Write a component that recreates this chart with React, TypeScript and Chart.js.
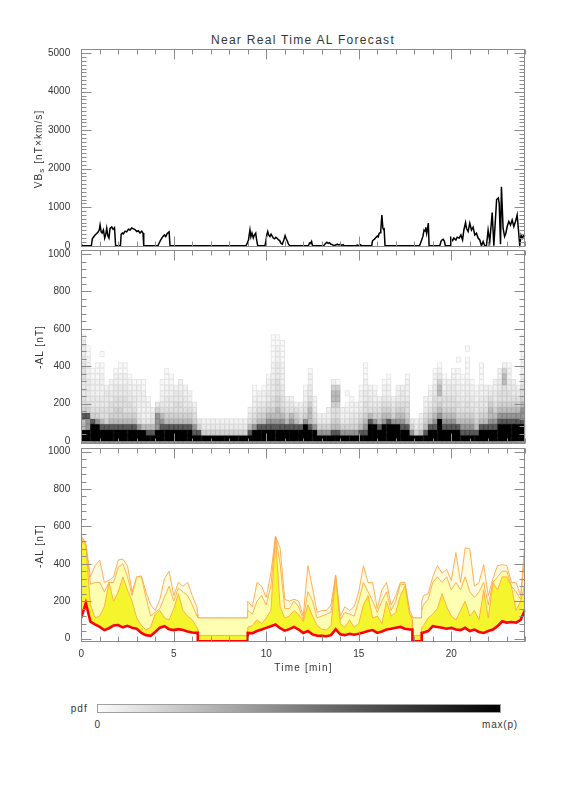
import React, { useEffect, useRef } from "react";
import { Chart, registerables } from "chart.js";

Chart.register(...registerables);

// ---------------- Panel 1 : VBs [nT x km/s] ----------------
const VBS_T = [0,0.06,
0.55,0.6,0.66,0.75,0.84,0.93,0.98,1.02,1.08,1.13,1.2,1.27,1.33,1.38,1.44,1.5,1.56,1.65,1.72,1.8,1.86,
2.12,2.16,2.22,2.28,2.37,2.46,2.55,2.64,2.73,2.82,2.91,3.0,3.09,3.18,3.27,3.34,3.38,
4.15,4.2,4.3,4.4,4.5,4.57,4.65,4.75,4.8,
8.9,8.95,9.04,9.12,9.17,9.23,9.3,9.36,9.43,9.48,9.54,
9.93,9.98,10.04,10.08,10.13,10.2,10.26,10.32,10.38,10.45,10.52,10.6,10.66,10.72,10.8,10.87,10.95,11.02,11.08,11.14,11.2,11.28,
12.28,12.34,12.4,12.45,12.5,
13.1,13.2,13.28,13.35,13.42,13.5,13.58,13.65,13.75,13.85,13.9,14.0,14.08,14.15,14.22,
14.85,14.92,15.0,15.1,15.15,
15.7,15.74,15.79,15.85,15.9,16.0,16.05,16.1,16.15,16.19,16.25,16.3,16.33,16.37,16.42,
18.28,18.33,18.4,18.47,18.53,18.58,18.62,18.67,18.72,18.76,18.8,
19.38,19.45,19.5,19.56,19.62,19.68,
19.94,19.97,20.07,20.14,20.25,20.32,20.43,20.52,20.61,20.68,20.77,20.82,20.91,21.0,21.09,21.18,21.27,21.36,21.45,21.54,21.63,21.72,21.81,21.9,21.99,22.08,22.21,22.3,22.45,22.54,22.59,22.66,22.71,22.8,22.88,22.95,23.02,23.11,23.2,23.29,23.38,23.47,23.56,23.63,23.7,23.77,23.85,23.92,24];
const VBS_V = [50,0,
0,180,220,280,320,370,420,540,360,330,410,200,300,455,260,200,450,490,430,470,0,
0,300,330,310,380,360,430,410,460,440,420,370,390,330,380,330,0,
0,60,150,230,280,240,320,360,0,
0,40,150,410,230,330,200,280,330,150,0,
0,120,300,370,280,240,300,250,200,180,220,190,150,140,60,40,150,260,180,120,40,0,
0,70,60,110,0,
0,60,90,60,80,40,30,0,20,40,20,35,10,30,0,
0,20,0,25,0,
0,120,150,170,200,250,230,320,340,410,800,470,430,440,0,
0,60,150,250,410,380,480,320,450,590,0,
0,120,150,170,130,0,
0,200,135,200,150,220,200,280,150,410,600,455,370,585,410,480,280,325,200,150,0,110,0,0,410,110,860,0,1200,1240,1100,40,1530,455,240,325,500,630,540,670,500,630,800,410,0,280,200,280,250];

// ---------------- Panel 2 : pdf histogram of -AL ----------------
// one string per 0.25-min column; char 0 = bin below 0, then 30 nT bins upward; digit = darkness 0..9
const HIST_T0 = 0;
const HIST_DT = 0.25;
const HIST_BIN = 30;
const HIST = [
"79966854433344433332","799778543333222211","79998543322211","799975433222111",
"79986443322221101","79985443332","799865443322","79986554433221",
"799865544332211","799865444332211","7998654433221","799865433221",
"799743222221","799632222211","798632221","7986432",
"79977753","799876432211","79986543322111","7998654332211",
"79986544332","799865443322","79986543322","7998654322",
"79875432","79853","79532","79532",
"79532","79532","79532","79532",
"79532","79532","79532","79532",
"7986432","79975432211","7998654322","79986543221",
"7998765433221","79987654433322211111","79987665544433322211","7998765443322221111",
"799865432","799876432","79986542","79985432",
"79997543221","79986665433221","799754322","797532",
"797532","7975322","798654456652","798654456651",
"7975322","7975322101","797543221","79754322",
"79865432221","798765443322111","79998643322","79997543221",
"799865432","799976543221","7999865432211","799975432",
"79997654322","79987654332","7998654432221","79753",
"79532","796432","798654322","79986543221",
"79987654433221","799997654665321","7998765443221","799876544332",
"79987654433221","7998654433221101","7987654332211","798765443322111101",
"798765433221","79865433221","799865433221111","79986543322",
"79987665432","799876543322","79998765443322","799987654446652",
"799987654433221","799987654332","79998765432","79998776544332222111"
];

// ---------------- Panel 3 : forecast quantile bands of -AL ----------------
const T = [0,0.25,0.5,0.75,1,1.25,1.5,1.75,2,2.25,2.5,2.75,3,3.25,3.5,3.75,4,4.25,4.5,4.75,5,5.25,5.5,5.75,6,6.25,
6.3,6.3,
6.5,6.75,7,7.25,7.5,7.75,8,8.25,8.5,8.75,9,
9,
9.25,9.5,9.75,10,10.25,10.5,10.75,11,11.25,11.5,11.75,12,12.25,12.5,12.75,13,13.25,13.5,13.75,14,14.25,14.5,14.75,15,15.25,15.5,15.75,16,16.25,16.5,16.75,17,17.25,17.5,17.75,
17.9,17.9,
18,18.25,
18.4,18.4,
18.5,18.75,19,19.25,19.5,19.75,20,20.25,20.5,20.75,21,21.25,21.5,21.75,22,22.25,22.5,22.75,23,23.25,23.5,23.75,24];

const RED = [110,190,90,75,62,45,55,70,72,60,68,58,52,30,18,14,35,58,66,50,45,50,45,38,32,30,
30,-15,
-15,-15,-15,-15,-15,-15,-15,-15,-15,-15,-15,
30,
28,40,48,57,66,75,55,42,50,62,48,30,40,22,15,14,12,18,50,22,18,25,20,25,32,40,45,30,38,48,52,58,62,52,48,
48,-15,
-15,-15,
-15,30,
32,40,66,62,58,52,57,48,45,57,40,48,35,30,40,48,66,92,85,88,85,100,155];

const YEL = [520,500,180,110,120,170,300,200,250,330,260,200,110,70,45,60,130,150,110,100,160,240,150,120,100,60,
50,16,
16,16,16,16,16,16,16,16,16,16,16,
60,
70,100,80,110,150,545,170,110,120,150,130,90,180,120,70,50,45,70,330,80,60,100,60,80,180,230,110,120,80,200,120,140,230,280,130,
100,16,
16,16,
16,60,
70,110,130,160,240,170,120,100,150,200,120,150,100,260,110,300,260,330,330,280,150,200,300];

const P90 = [540,500,290,300,300,250,300,300,380,400,330,230,330,330,220,120,140,160,220,280,200,270,250,230,180,120,
115,110,
110,110,110,110,110,110,110,110,110,110,110,
150,
130,200,230,180,280,545,400,160,160,200,170,100,250,200,110,120,130,140,335,100,140,130,120,200,300,250,200,140,200,250,150,200,290,290,130,
115,110,
110,110,
110,150,
180,210,300,330,300,330,260,300,260,330,250,220,250,300,180,300,330,360,360,280,250,210,480];

const MAX = [550,510,330,390,420,300,310,330,420,425,390,250,330,335,250,180,150,210,320,360,230,300,280,300,230,170,
130,110,
110,110,110,110,110,110,110,110,110,110,110,
200,
170,300,280,220,350,547,485,210,200,210,200,120,390,270,140,150,150,180,340,120,170,150,170,250,390,300,300,160,260,300,180,230,300,300,150,
120,110,
110,110,
110,200,
230,240,330,390,350,370,310,460,300,485,480,280,300,395,230,320,390,395,390,300,300,230,547];

// ---------------- axes ----------------
const X_MIN = 0, X_MAX = 24;
const X_LABELS = [0, 5, 10, 15, 20];
const X_MINOR_STEP = 1;
const VBS_TICKS = [0, 1000, 2000, 3000, 4000, 5000];
const AL_TICKS = [0, 200, 400, 600, 800, 1000];

// ---------------- styling / layout ----------------
const FONT = "'Liberation Sans', Arial, sans-serif";
const TEXT = "#363636";
const FRAME = "#8c8c8c";
const W = 576;
const LEFT = 81.2;
const RIGHT = 525.3;
const GRAY = [255, 249, 242, 234, 224, 210, 188, 150, 90, 0];

function framePlugin(yTicks: number[], minorStep: number) {
  return {
    id: "idlFrame",
    afterDraw(chart: any) {
      const { ctx, chartArea: a, scales } = chart;
      const xs = scales.x, ys = scales.y;
      const L = Math.round(a.left) + 0.5, R = Math.round(a.right) - 0.5;
      const Tp = Math.round(a.top) + 0.5, B = Math.round(a.bottom) - 0.5;
      ctx.save();
      ctx.strokeStyle = FRAME;
      ctx.lineWidth = 1;
      ctx.strokeRect(L, Tp, R - L, B - Tp);
      ctx.beginPath();
      for (let v = X_MIN; v <= X_MAX; v += X_MINOR_STEP) {
        const px = Math.round(xs.getPixelForValue(v)) + 0.5;
        const len = v % 5 === 0 ? 10 : 5;
        ctx.moveTo(px, B); ctx.lineTo(px, B - len);
        ctx.moveTo(px, Tp); ctx.lineTo(px, Tp + len);
      }
      const top = yTicks[yTicks.length - 1];
      for (let v = 0; v <= top; v += minorStep) {
        const py = Math.round(ys.getPixelForValue(v)) + 0.5;
        const len = yTicks.includes(v) ? 10 : 5;
        ctx.moveTo(L, py); ctx.lineTo(L + len, py);
        ctx.moveTo(R, py); ctx.lineTo(R - len, py);
      }
      ctx.stroke();
      ctx.restore();
    },
  };
}

function baseOptions(p: { padTop: number; padBottom: number; yMin: number; yMax: number; yTicks: number[]; showX: boolean; xAxisH: number }) {
  return {
    responsive: false,
    animation: false as const,
    devicePixelRatio: 1,
    events: [] as any[],
    layout: { padding: { left: 0, right: W - RIGHT, top: p.padTop, bottom: p.padBottom } },
    plugins: { legend: { display: false }, tooltip: { enabled: false }, title: { display: false } },
    scales: {
      x: {
        type: "linear" as const,
        min: X_MIN,
        max: X_MAX,
        offset: false,
        display: p.showX,
        grid: { display: false },
        border: { display: false },
        afterBuildTicks: (s: any) => { s.ticks = X_LABELS.map((v) => ({ value: v })); },
        afterFit: (s: any) => { s.height = p.xAxisH; },
        ticks: { font: { family: FONT, size: 10 }, color: TEXT, padding: -1, maxRotation: 0, autoSkip: false, callback: (v: any) => String(v) },
      },
      y: {
        type: "linear" as const,
        min: p.yMin,
        max: p.yMax,
        grid: { display: false },
        border: { display: false },
        afterBuildTicks: (s: any) => { s.ticks = p.yTicks.map((v) => ({ value: v })); },
        afterFit: (s: any) => { s.width = LEFT; },
        ticks: { font: { family: FONT, size: 10 }, color: TEXT, padding: 3, autoSkip: false, callback: (v: any) => String(v) },
      },
    },
  };
}

type Builder = (pad: { padTop: number; padBottom: number }) => any;

function Panel({ top, bottom, xAxisH, build }: { top: number; bottom: number; xAxisH: number; build: Builder }) {
  const ref = useRef<HTMLCanvasElement>(null);
  const cTop = Math.floor(top) - 12;
  const cH = Math.ceil(bottom) + 12 + xAxisH - cTop;
  useEffect(() => {
    const padTop = top - cTop;
    const padBottom = cTop + cH - bottom - xAxisH;
    const chart = new Chart(ref.current as HTMLCanvasElement, build({ padTop, padBottom }));
    return () => chart.destroy();
  }, []);
  return (
    <canvas ref={ref} width={W} height={cH}
      style={{ position: "absolute", left: 0, top: cTop, width: W, height: cH }} />
  );
}

const buildVbs: Builder = ({ padTop, padBottom }) => ({
  type: "line",
  data: {
    datasets: [{
      data: VBS_T.map((t, i) => ({ x: t, y: VBS_V[i] })),
      borderColor: "#000000",
      borderWidth: 1.5,
      pointRadius: 0,
      tension: 0,
      fill: false,
    }],
  },
  options: baseOptions({ padTop, padBottom, yMin: -40, yMax: 5100, yTicks: VBS_TICKS, showX: false, xAxisH: 0 }),
  plugins: [framePlugin(VBS_TICKS, 100)],
});

const buildHist: Builder = ({ padTop, padBottom }) => {
  const cells: { x: number; y: number[] }[] = [];
  const bg: string[] = [];
  const bd: string[] = [];
  HIST.forEach((col, c) => {
    const x = HIST_T0 + (c + 0.5) * HIST_DT;
    for (let k = 0; k < col.length; k++) {
      const d = Number(col[k]);
      if (!d) continue;
      const lo = (k - 1) * HIST_BIN;
      cells.push({ x, y: [lo, lo + HIST_BIN] });
      const g = GRAY[d];
      bg.push(`rgb(${g},${g},${g})`);
      const gb = Math.max(0, g - 20);
      bd.push(`rgb(${gb},${gb},${gb})`);
    }
  });
  return {
    type: "bar",
    data: {
      datasets: [{
        data: cells,
        backgroundColor: bg,
        borderColor: bd,
        borderWidth: 1,
        borderSkipped: false,
        barPercentage: 1,
        categoryPercentage: 1,
        grouped: false,
      }],
    },
    options: baseOptions({ padTop, padBottom, yMin: -16, yMax: 1022, yTicks: AL_TICKS, showX: false, xAxisH: 0 }),
    plugins: [framePlugin(AL_TICKS, 40)],
  };
};

const ORANGE = "rgba(255,168,70,0.9)";
const buildBands: Builder = ({ padTop, padBottom }) => {
  const pts = (arr: number[]) => T.map((t, i) => ({ x: t, y: arr[i] }));
  const line = { pointRadius: 0, tension: 0 };
  return {
    type: "line",
    data: {
      datasets: [
        { ...line, data: pts(RED), borderColor: "#ff0000", borderWidth: 2.6, fill: false },
        { ...line, data: pts(YEL), borderColor: ORANGE, borderWidth: 1, fill: "-1", backgroundColor: "rgb(245,245,45)" },
        { ...line, data: pts(P90), borderColor: ORANGE, borderWidth: 1, fill: "-1", backgroundColor: "rgb(255,255,178)" },
        { ...line, data: pts(MAX), borderColor: ORANGE, borderWidth: 1, fill: "-1", backgroundColor: "rgb(255,251,224)" },
      ],
    },
    options: baseOptions({ padTop, padBottom, yMin: -16, yMax: 1022, yTicks: AL_TICKS, showX: true, xAxisH: 20 }),
    plugins: [framePlugin(AL_TICKS, 40)],
  };
};

const txt: React.CSSProperties = { position: "absolute", fontFamily: FONT, color: TEXT, whiteSpace: "nowrap", lineHeight: 1 };

export default function App() {
  return (
    <div style={{ position: "absolute", left: 0, top: 0, width: W, height: 792, background: "#fff" }}>
      <div style={{ ...txt, left: 303, top: 40, fontSize: 12, letterSpacing: "1.3px", transform: "translate(-50%,-50%)" }}>
        Near Real Time AL Forecast
      </div>

      <Panel top={49.3} bottom={247.3} xAxisH={0} build={buildVbs} />
      <Panel top={250} bottom={444} xAxisH={0} build={buildHist} />
      <Panel top={447.5} bottom={641.5} xAxisH={20} build={buildBands} />

      <div style={{ ...txt, left: 40, top: 149, fontSize: 10, letterSpacing: "1.1px", transform: "translate(-50%,-50%) rotate(-90deg)" }}>
        VB<sub style={{ fontSize: 8, verticalAlign: "-2px" }}>s</sub> [nT×km/s]
      </div>
      <div style={{ ...txt, left: 40, top: 347, fontSize: 10, letterSpacing: "1.1px", transform: "translate(-50%,-50%) rotate(-90deg)" }}>
        -AL [nT]
      </div>
      <div style={{ ...txt, left: 40, top: 546, fontSize: 10, letterSpacing: "1.1px", transform: "translate(-50%,-50%) rotate(-90deg)" }}>
        -AL [nT]
      </div>
      <div style={{ ...txt, left: 303.5, top: 668, fontSize: 10, letterSpacing: "1.2px", transform: "translate(-50%,-50%)" }}>
        Time [min]
      </div>

      <div style={{ ...txt, left: 70.8, top: 709, fontSize: 10, letterSpacing: "1px", transform: "translateY(-50%)" }}>pdf</div>
      <div style={{
        position: "absolute", left: 97.4, top: 704, width: 404, height: 8.7, boxSizing: "border-box",
        border: "1px solid #a0a0a0", background: "linear-gradient(to right, #fbfbfb, #000000)",
      }} />
      <div style={{ ...txt, left: 97.4, top: 725, fontSize: 10, transform: "translate(-50%,-50%)" }}>0</div>
      <div style={{ ...txt, left: 500, top: 725, fontSize: 10, letterSpacing: "0.8px", transform: "translate(-50%,-50%)" }}>max(p)</div>
    </div>
  );
}
